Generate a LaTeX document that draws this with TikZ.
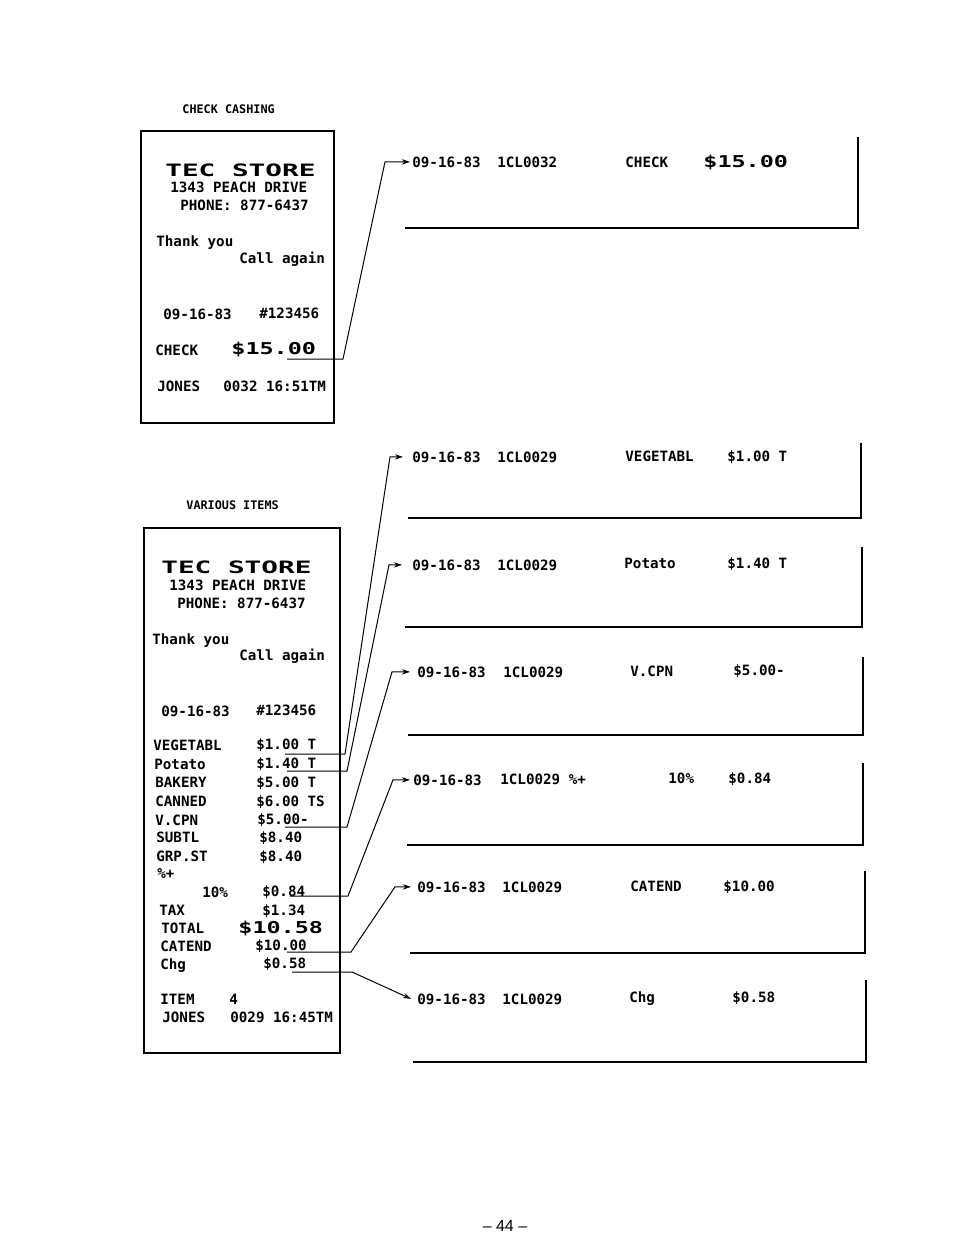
\documentclass[tikz,border=0pt]{standalone}
\usepackage{fontspec}
\usepackage{graphicx}
\setmonofont{DejaVu Sans Mono}
\setsansfont{Liberation Sans}
\usetikzlibrary{positioning,arrows.meta}
\newcommand{\dotm}{\ttfamily\bfseries\fontsize{7.1}{8}\selectfont}
\newcommand{\dotb}{\ttfamily\bfseries\fontsize{7.1}{8}\selectfont}
\newcommand{\dotcap}{\ttfamily\bfseries\fontsize{5.9}{7}\selectfont}
\newcommand{\wide}[1]{\scalebox{1.95}[1.2]{\bfseries #1}}
\newcommand{\bigamt}[1]{\scalebox{1.65}[1.15]{\bfseries #1}}

\begin{document}
\begin{tikzpicture}[x=0.5pt, y=-0.5pt,
    rtxt/.style={font=\dotm, inner sep=0pt, anchor=base west},
    jtxt/.style={font=\dotb, inner sep=0pt, anchor=base west},
    captxt/.style={font=\dotcap, inner sep=0pt, anchor=base west},
    slip/.style={line width=0.9pt},
    jbox/.style={line width=0.9pt},
    lead/.style={line width=0.5pt, -{Stealth[length=4pt,width=2.6pt]}}]
  \useasboundingbox (0,0) rectangle (954,1239);

  % check cashing slip
  \node[captxt] (capA) at (182,113) {CHECK CASHING};
  \draw[slip] (141,131) rectangle (334,423);
  \node[rtxt] (storeA) at (165,176) {\wide{TEC STORE}};
  \node[rtxt] (addrA) at (170,192) {1343 PEACH DRIVE};
  \node[rtxt] (telA) at (180,210) {PHONE: 877-6437};
  \node[rtxt] (thxA) at (156,246) {Thank you};
  \node[rtxt] (callA) at (239,263) {Call again};
  \node[rtxt] (dateA) at (163,319) {09-16-83};
  \node[rtxt] (noA) at (259,318) {\#123456};
  \node[rtxt] (chkA) at (155,355) {CHECK};
  \node[rtxt] (amtA) at (231,354) {\bigamt{\$15.00}};
  \node[rtxt] (clkA) at (157,391) {JONES};
  \node[rtxt] (timeA) at (223,391) {0032 16:51TM};

  % various items slip
  \node[captxt] (capB) at (186,509) {VARIOUS ITEMS};
  \draw[slip] (144,528) rectangle (340,1053);
  \node[rtxt] (storeB) at (161,573) {\wide{TEC STORE}};
  \node[rtxt] (addrB) at (169,590) {1343 PEACH DRIVE};
  \node[rtxt] (telB) at (177,608) {PHONE: 877-6437};
  \node[rtxt] (thxB) at (152,644) {Thank you};
  \node[rtxt] (callB) at (239,660) {Call again};
  \node[rtxt] (dateB) at (161,716) {09-16-83};
  \node[rtxt] (noB) at (256,715) {\#123456};
  \node[rtxt] (vegB) at (153,750) {VEGETABL};
  \node[rtxt] (vegP) at (256,749) {\$1.00 T};
  \node[rtxt] (potB) at (154,769) {Potato};
  \node[rtxt] (potP) at (256,768) {\$1.40 T};
  \node[rtxt] (bakB) at (155,787) {BAKERY};
  \node[rtxt] (bakP) at (256,787) {\$5.00 T};
  \node[rtxt] (canB) at (155,806) {CANNED};
  \node[rtxt] (canP) at (256,806) {\$6.00 TS};
  \node[rtxt] (cpnB) at (155,825) {V.CPN};
  \node[rtxt] (cpnP) at (257,824) {\$5.00-};
  \node[rtxt] (subB) at (156,842) {SUBTL};
  \node[rtxt] (subP) at (259,842) {\$8.40};
  \node[rtxt] (grpB) at (156,861) {GRP.ST};
  \node[rtxt] (grpP) at (259,861) {\$8.40};
  \node[rtxt] (pctB) at (157,878) {\%+};
  \node[rtxt] (rateB) at (202,897) {10\%};
  \node[rtxt] (pctP) at (262,896) {\$0.84};
  \node[rtxt] (taxB) at (159,915) {TAX};
  \node[rtxt] (taxP) at (262,915) {\$1.34};
  \node[rtxt] (totB) at (161,933) {TOTAL};
  \node[rtxt] (totP) at (238,933) {\bigamt{\$10.58}};
  \node[rtxt] (catB) at (160,951) {CATEND};
  \node[rtxt] (catP) at (255,950) {\$10.00};
  \node[rtxt] (chgB) at (160,969) {Chg};
  \node[rtxt] (chgP) at (263,968) {\$0.58};
  \node[rtxt] (itmB) at (160,1004) {ITEM};
  \node[rtxt] (itmN) at (229,1004) {4};
  \node[rtxt] (clkB) at (162,1022) {JONES};
  \node[rtxt] (timeB) at (230,1022) {0029 16:45TM};

  % journal lines
  \node[jtxt] (j1) at (412,167) {09-16-83};
  \node[jtxt] (j1c) at (497,167) {1CL0032};
  \node[jtxt] (j1d) at (625,167) {CHECK};
  \node[jtxt] (j1a) at (703,167) {\bigamt{\$15.00}};
  \draw[jbox] (405,228) -| (858,137);

  \node[jtxt] (j2) at (412,462) {09-16-83};
  \node[jtxt] (j2c) at (497,462) {1CL0029};
  \node[jtxt] (j2d) at (625,461) {VEGETABL};
  \node[jtxt] (j2a) at (727,461) {\$1.00 T};
  \draw[jbox] (408,518) -| (861,443);

  \node[jtxt] (j3) at (412,570) {09-16-83};
  \node[jtxt] (j3c) at (497,570) {1CL0029};
  \node[jtxt] (j3d) at (624,568) {Potato};
  \node[jtxt] (j3a) at (727,568) {\$1.40 T};
  \draw[jbox] (405,627) -| (862,547);

  \node[jtxt] (j4) at (417,677) {09-16-83};
  \node[jtxt] (j4c) at (503,677) {1CL0029};
  \node[jtxt] (j4d) at (630,676) {V.CPN};
  \node[jtxt] (j4a) at (733,675) {\$5.00-};
  \draw[jbox] (408,735) -| (863,657);

  \node[jtxt] (j5) at (413,785) {09-16-83};
  \node[jtxt] (j5c) at (500,784) {1CL0029 \%+};
  \node[jtxt] (j5d) at (668,783) {10\%};
  \node[jtxt] (j5a) at (728,783) {\$0.84};
  \draw[jbox] (407,845) -| (863,763);

  \node[jtxt] (j6) at (417,892) {09-16-83};
  \node[jtxt] (j6c) at (502,892) {1CL0029};
  \node[jtxt] (j6d) at (630,891) {CATEND};
  \node[jtxt] (j6a) at (723,891) {\$10.00};
  \draw[jbox] (410,953) -| (865,871);

  \node[jtxt] (j7) at (417,1004) {09-16-83};
  \node[jtxt] (j7c) at (502,1004) {1CL0029};
  \node[jtxt] (j7d) at (629,1002) {Chg};
  \node[jtxt] (j7a) at (732,1002) {\$0.58};
  \draw[jbox] (413,1062) -| (866,980);

  % leaders from slip to journal
  \coordinate (uA) at (287,359);  \coordinate (kA) at (343,359);
  \coordinate (uB1) at (285,754); \coordinate (kB1) at (345,754);
  \coordinate (uB2) at (287,771); \coordinate (kB2) at (347,771);
  \coordinate (uB3) at (285,827); \coordinate (kB3) at (347,827);
  \coordinate (uB4) at (290,896); \coordinate (kB4) at (348,896);
  \coordinate (uB5) at (287,952); \coordinate (kB5) at (351,952);
  \coordinate (uB6) at (292,972); \coordinate (kB6) at (352,972);
  \draw[lead] (uA) -- (kA) -- ([xshift=-13.5pt]j1.west) -- ([xshift=-1pt]j1.west);
  \draw[lead] (uB1) -- (kB1) -- ([xshift=-11pt]j2.west) -- ([xshift=-4.5pt]j2.west);
  \draw[lead] (uB2) -- (kB2) -- ([xshift=-11.5pt]j3.west) -- ([xshift=-5pt]j3.west);
  \draw[lead] (uB3) -- (kB3) -- ([xshift=-12.5pt]j4.west) -- ([xshift=-3.5pt]j4.west);
  \draw[lead] (uB4) -- (kB4) -- ([xshift=-10pt]j5.west) -- ([xshift=-1.5pt]j5.west);
  \draw[lead] (uB5) -- (kB5) -- ([xshift=-11pt]j6.west) -- ([xshift=-3pt]j6.west);
  \draw[lead] (uB6) -- (kB6) -- ([xshift=-3pt]j7.west);

  \node[font=\sffamily\fontsize{8}{9}\selectfont, inner sep=0pt] (pg) at (505,1226) {-- 44 --};
\end{tikzpicture}
\end{document}
